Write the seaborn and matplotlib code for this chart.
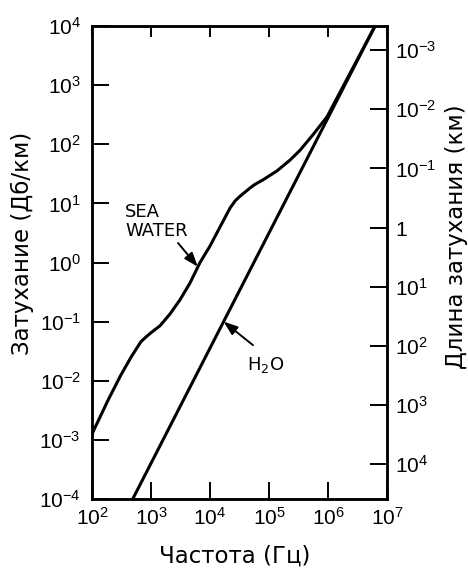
import matplotlib
matplotlib.use("Agg")
import matplotlib.pyplot as plt
from matplotlib import font_manager
from matplotlib.ticker import FixedLocator, FixedFormatter, NullLocator
import pandas as pd
import seaborn as sns

# Attenuation of sea water, frequency (Hz) vs attenuation (dB/km)
sea_freq = [100, 187, 310, 458, 557, 678, 822, 1000, 1420, 2100, 3100, 4580,
            6780, 1.0e4, 1.48e4, 2.18e4, 2.66e4, 3.22e4, 3.92e4, 4.76e4,
            5.79e4, 7.9e4, 1.37e5, 2.27e5, 3.35e5, 5.57e5, 9.6e5, 6.27e6]
sea_atten = [1.26e-3, 4.7e-3, 1.26e-2, 2.5e-2, 3.4e-2, 4.6e-2, 5.5e-2, 6.5e-2,
             8.5e-2, 0.135, 0.234, 0.45, 1.0, 1.9, 4.0, 8.3, 11.0, 13.2, 15.5,
             18.2, 21.0, 25, 35.5, 54, 79, 145, 290, 1.0e4]

# Pure water
h2o_freq = [490, 6.27e6]
h2o_atten = [1.0e-4, 1.0e4]

# Attenuation length (km) = LENGTH_SCALE / attenuation (dB/km)
LENGTH_SCALE = 3.9

freq_ticks = [1e2, 1e3, 1e4, 1e5, 1e6, 1e7]
freq_labels = [r"$10^{2}$", r"$10^{3}$", r"$10^{4}$", r"$10^{5}$", r"$10^{6}$", r"$10^{7}$"]
atten_ticks = [1e-4, 1e-3, 1e-2, 1e-1, 1e0, 1e1, 1e2, 1e3, 1e4]
atten_labels = [r"$10^{-4}$", r"$10^{-3}$", r"$10^{-2}$", r"$10^{-1}$", r"$10^{0}$",
                r"$10^{1}$", r"$10^{2}$", r"$10^{3}$", r"$10^{4}$"]
length_ticks = [1e-3, 1e-2, 1e-1, 1e0, 1e1, 1e2, 1e3, 1e4]
length_labels = [r"$10^{-3}$", r"$10^{-2}$", r"$10^{-1}$", r"$1$",
                 r"$10^{1}$", r"$10^{2}$", r"$10^{3}$", r"$10^{4}$"]


def installed(name):
    try:
        font_manager.findfont(font_manager.FontProperties(family=name),
                              fallback_to_default=False)
        return True
    except ValueError:
        return False


sns.set_style("white")
plt.rcParams["font.family"] = ["DejaVu Sans"]
tick_font = "Liberation Sans Narrow" if installed("Liberation Sans Narrow") else "Liberation Sans"
plt.rcParams.update({
    "mathtext.fontset": "custom",
    "mathtext.rm": tick_font,
    "mathtext.it": tick_font + ":italic",
    "mathtext.bf": tick_font + ":bold",
})

fig = plt.figure(figsize=(4.68, 5.69), dpi=100)
ax = fig.add_axes([0.1966, 0.1230, 0.6303, 0.8313])

sea_df = pd.DataFrame({"freq": sea_freq, "atten": sea_atten})
h2o_df = pd.DataFrame({"freq": h2o_freq, "atten": h2o_atten})
sns.lineplot(data=sea_df, x="freq", y="atten", ax=ax, color="black", lw=2.2,
             sort=False, estimator=None)
sns.lineplot(data=h2o_df, x="freq", y="atten", ax=ax, color="black", lw=2.2,
             sort=False, estimator=None)
for line in ax.lines:
    line.set_solid_joinstyle("round")

ax.set_xscale("log")
ax.set_yscale("log")
ax.set_xlim(1e2, 1e7)
ax.set_ylim(1e-4, 1e4)

ax.xaxis.set_major_locator(FixedLocator(freq_ticks))
ax.xaxis.set_major_formatter(FixedFormatter(freq_labels))
ax.xaxis.set_minor_locator(NullLocator())
ax.yaxis.set_major_locator(FixedLocator(atten_ticks))
ax.yaxis.set_major_formatter(FixedFormatter(atten_labels))
ax.yaxis.set_minor_locator(NullLocator())

ax.tick_params(axis="x", which="major", direction="in", length=12, width=1.4,
               top=True, bottom=True, pad=6, labelsize=15, colors="black")
ax.tick_params(axis="y", which="major", direction="in", length=12, width=1.4,
               left=True, right=False, pad=8, labelsize=15, colors="black")
for t in ax.xaxis.get_major_ticks():
    t.tick2line.set_markersize(8)

# Attenuation length on the right-hand axis
ax2 = ax.twinx()
ax2.set_yscale("log")
ax2.set_ylim(LENGTH_SCALE / 1e-4, LENGTH_SCALE / 1e4)
ax2.yaxis.set_major_locator(FixedLocator(length_ticks))
ax2.yaxis.set_major_formatter(FixedFormatter(length_labels))
ax2.yaxis.set_minor_locator(NullLocator())
ax2.tick_params(axis="y", which="major", direction="in", length=12, width=1.4,
                right=True, left=False, pad=6, labelsize=15, colors="black")

for a in (ax, ax2):
    for s in a.spines.values():
        s.set_visible(True)
        s.set_color("black")
        s.set_linewidth(1.8)

ax.set_xlabel("Частота (Гц)", fontsize=16.5, color="black", va="center")
ax.xaxis.set_label_coords(0.485, -0.121)
ax.set_ylabel("Затухание (Дб/км)", fontsize=16.5, color="black", va="center")
ax.yaxis.set_label_coords(-0.237, 0.54)
ax2.set_ylabel("Длина затухания (км)", fontsize=16.5, color="black",
               va="center", rotation=90)
ax2.yaxis.set_label_coords(1.234, 0.555)

# Curve labels
ax.text(363, 10.1, "SEA\nWATER", ha="left", va="top", fontsize=13,
        linespacing=1.05, color="black")
ax.text(8.9e4, 0.0188, r"H$_{\mathregular{2}}$O", ha="center", va="center",
        fontsize=13, color="black")
arrow = dict(arrowstyle="-|>,head_length=0.6,head_width=0.22", color="black",
             lw=1.4, shrinkA=0, shrinkB=0, mutation_scale=14)
ax.annotate("", xy=(6200, 0.85), xytext=(2870, 2.14), arrowprops=arrow)
ax.annotate("", xy=(1.7e4, 0.1), xytext=(5.36e4, 0.040), arrowprops=arrow)

fig.savefig("out.png", dpi=100, facecolor="white")
